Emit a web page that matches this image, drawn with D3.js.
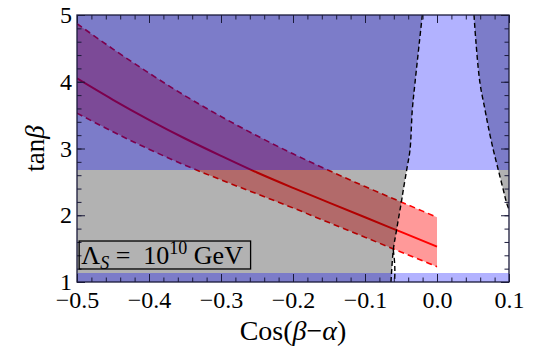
<!DOCTYPE html>
<html><head><meta charset="utf-8">
<script src="https://cdn.jsdelivr.net/npm/d3@7"></script>
<style>
html,body{margin:0;padding:0;background:#fff;}
svg{display:block;}
</style></head>
<body>
<svg id="chart" width="550" height="350"></svg>
<script>
// ---- data ----
const bandX      = [-0.5, -0.45, -0.4, -0.35, -0.3, -0.25, -0.2, -0.15, -0.1, -0.05, 0.0];
const bandCenter = [4.05, 3.73, 3.43, 3.15, 2.89, 2.64, 2.41, 2.19, 1.97, 1.75, 1.53];
const bandUpper  = [4.87, 4.49, 4.13, 3.79, 3.48, 3.19, 2.92, 2.67, 2.43, 2.20, 1.97];
const bandLower  = [3.53, 3.25, 2.99, 2.75, 2.53, 2.32, 2.11, 1.89, 1.67, 1.45, 1.23];

const leftCurveY  = [5.0, 4.58, 3.98, 3.58, 2.98, 2.68, 2.38, 2.23, 1.79, 1.48, 1.0];
const leftCurveX  = [-0.0204, -0.0246, -0.0306, -0.0343, -0.0375, -0.0421, -0.0468, -0.0490, -0.0560, -0.0607, -0.0639];
const leftCurve2Y = [1.48, 1.30, 1.15, 1.0];
const leftCurve2X = [-0.0607, -0.0590, -0.0585, -0.0590];
const rightCurveY = [5.0, 4.58, 3.98, 3.58, 3.32, 2.98, 2.68, 2.38, 2.18, 2.0];
const rightCurveX = [0.0514, 0.0542, 0.0597, 0.0667, 0.0713, 0.0782, 0.0851, 0.0921, 0.0968, 0.103];

const blueBands = [[2.68, 5.0], [1.0, 1.13]];

const xTicks = [-0.5, -0.4, -0.3, -0.2, -0.1, 0.0, 0.1];
const yTicks = [1, 2, 3, 4, 5];

// ---- layout ----
const SERIF = "'Liberation Serif','Times New Roman',serif";
const svg = d3.select("#chart");
const L = 77, R = 509, T = 15, B = 282;
const x = d3.scaleLinear().domain([-0.5, 0.1]).range([L, R]);
const y = d3.scaleLinear().domain([1, 5]).range([B, T]);

svg.append("defs").append("clipPath").attr("id", "clip")
  .append("rect").attr("x", L).attr("y", T).attr("width", R - L).attr("height", B - T);
const plot = svg.append("g").attr("clip-path", "url(#clip)");

// red band
const areaGen = d3.area().x(d => x(d[0])).y0(d => y(d[1])).y1(d => y(d[2])).curve(d3.curveMonotoneX);
const lineGen = d3.line().x(d => x(d[0])).y(d => y(d[1])).curve(d3.curveMonotoneX);
plot.append("path")
  .datum(bandX.map((v, i) => [v, bandLower[i], bandUpper[i]]))
  .attr("d", areaGen).attr("fill", "rgba(255,0,0,0.4)");
[bandUpper, bandLower].forEach(arr => {
  plot.append("path").datum(bandX.map((v, i) => [v, arr[i]]))
    .attr("d", lineGen).attr("fill", "none").attr("stroke", "#ff0000")
    .attr("stroke-width", 1.6).attr("stroke-dasharray", "6,4");
});
plot.append("path").datum(bandX.map((v, i) => [v, bandCenter[i]]))
  .attr("d", lineGen).attr("fill", "none").attr("stroke", "#ff0000")
  .attr("stroke-width", 2);

// gray excluded regions (outside the dashed contours)
const leftPts = leftCurveX.map((v, i) => [x(v), y(leftCurveY[i])]);
const leftPoly = [[x(-0.5), y(1)], [x(-0.5), y(5)]].concat(leftPts);
const rightPts = rightCurveX.map((v, i) => [x(v), y(rightCurveY[i])]);
const rightPoly = rightPts.concat([[x(0.12), y(2.0)], [x(0.12), y(5)]]);
const polyLine = d3.line().curve(d3.curveLinear);
plot.append("path").attr("d", polyLine(leftPoly) + "Z").attr("fill", "rgba(0,0,0,0.3)");
plot.append("path").attr("d", polyLine(rightPoly) + "Z").attr("fill", "rgba(0,0,0,0.3)");

// blue bands
plot.selectAll("rect.blue").data(blueBands).enter().append("rect")
  .attr("class", "blue")
  .attr("x", L).attr("width", R - L)
  .attr("y", d => y(d[1])).attr("height", d => y(d[0]) - y(d[1]))
  .attr("fill", "rgba(0,0,255,0.3)").attr("shape-rendering", "crispEdges");

// dashed contours
const curveGen = d3.line().x(d => x(d[0])).y(d => y(d[1])).curve(d3.curveCatmullRom);
[[leftCurveX, leftCurveY], [leftCurve2X, leftCurve2Y], [rightCurveX, rightCurveY]].forEach(([cx, cy]) => {
  plot.append("path").datum(cx.map((v, i) => [v, cy[i]]))
    .attr("d", curveGen).attr("fill", "none").attr("stroke", "#000")
    .attr("stroke-width", 1.4).attr("stroke-dasharray", "5,3");
});

// frame and ticks
const frameColor = "#1a1a3a";
const minorX = d3.range(-0.5, 0.1001, 0.02);
const minorY = d3.range(1, 5.001, 0.2);
function drawAxis(axisFn, scale, major, minor, transform, fmt, pad) {
  const gMinor = svg.append("g").attr("transform", transform)
    .call(axisFn(scale).tickValues(minor).tickSize(-4.5).tickFormat(""));
  const gMajor = svg.append("g").attr("transform", transform)
    .call(axisFn(scale).tickValues(major).tickSize(-8).tickFormat(fmt || "").tickPadding(pad || 0));
  [gMinor, gMajor].forEach(g => {
    g.selectAll(".domain").remove();
    g.selectAll("line").attr("stroke", frameColor).attr("stroke-width", 1);
  });
  if (!fmt) gMajor.selectAll("text").remove();
  gMinor.selectAll("text").remove();
  gMajor.attr("font-family", SERIF).attr("font-size", 24);
  return gMajor;
}
const gx = drawAxis(d3.axisBottom, x, xTicks, minorX, `translate(0,${B})`, d3.format(".1f"), 9);
drawAxis(d3.axisTop, x, xTicks, minorX, `translate(0,${T})`, null, 0);
const gy = drawAxis(d3.axisLeft, y, yTicks, minorY, `translate(${L},0)`, d3.format("d"), 5);
drawAxis(d3.axisRight, y, yTicks, minorY, `translate(${R},0)`, null, 0);
[gx, gy].forEach(g => g.selectAll("text")
  .style("font-family", SERIF).style("font-size", "24px").attr("fill", "#000"));

svg.append("rect").attr("x", L).attr("y", T).attr("width", R - L).attr("height", B - T)
  .attr("fill", "none").attr("stroke", frameColor).attr("stroke-width", 1.3);

// axis titles
const xt = svg.append("text").attr("x", (L + R) / 2).attr("y", 340)
  .attr("text-anchor", "middle").style("font-family", SERIF).style("font-size", "28px");
xt.append("tspan").text("Cos(");
xt.append("tspan").attr("font-style", "italic").text("β");
xt.append("tspan").text("−");
xt.append("tspan").attr("font-style", "italic").text("α");
xt.append("tspan").text(")");

const yt = svg.append("text").attr("transform", `translate(44,${(T + B) / 2}) rotate(-90)`)
  .attr("text-anchor", "middle").style("font-family", SERIF).style("font-size", "27px");
yt.append("tspan").text("tan");
yt.append("tspan").attr("font-style", "italic").text("β");

// legend box
const lg = svg.append("g");
lg.append("rect").attr("x", x(-0.497)).attr("y", y(1.614))
  .attr("width", x(-0.2589) - x(-0.497)).attr("height", y(1.195) - y(1.614))
  .attr("fill", "none").attr("stroke", "#000").attr("stroke-width", 1.3);
const lt = lg.append("text").attr("x", x(-0.494)).attr("y", y(1.27))
  .style("font-family", SERIF).style("font-size", "26px");
lt.append("tspan").text("Λ");
lt.append("tspan").attr("font-style", "italic").style("font-size", "18px").attr("dy", 5).text("S");
lt.append("tspan").attr("dy", -5).text("\u00A0=\u00A0\u00A010");
lt.append("tspan").style("font-size", "18px").attr("dy", -10).text("10");
lt.append("tspan").attr("dy", 10).text("\u00A0GeV");
</script>
</body></html>
